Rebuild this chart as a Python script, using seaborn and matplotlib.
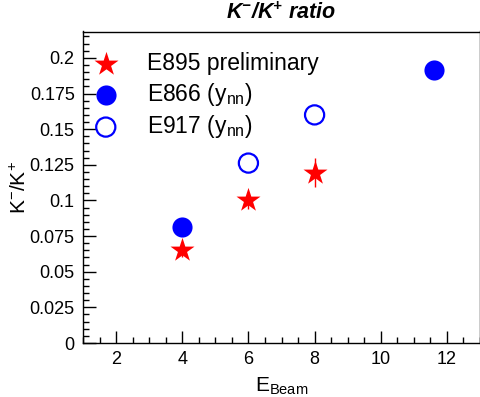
import matplotlib
matplotlib.use("Agg")
import matplotlib.pyplot as plt
from matplotlib.ticker import MultipleLocator
import seaborn as sns
import pandas as pd

# data
e895_x = [4, 6, 8]
e895_y = [0.0655, 0.1002, 0.1195]
e895_err = [0.005, 0.006, 0.0102]

e866_x = [4, 11.6]
e866_y = [0.0812, 0.1912]

e917_x = [6, 8]
e917_y = [0.1262, 0.1600]

sns.set_style("ticks")
plt.rcParams['font.family'] = ['Liberation Sans', 'DejaVu Sans']
plt.rcParams['mathtext.fontset'] = 'custom'
plt.rcParams['mathtext.rm'] = 'Liberation Sans'
plt.rcParams['mathtext.it'] = 'Liberation Sans:italic'
plt.rcParams['mathtext.bf'] = 'Liberation Sans:bold'
plt.rcParams['mathtext.bfit'] = 'Liberation Sans:bold:italic'
for key in ['text.color', 'axes.labelcolor', 'xtick.color', 'ytick.color', 'axes.edgecolor']:
    plt.rcParams[key] = 'black'

fig = plt.figure(figsize=(4.81, 3.97), dpi=100)
ax = fig.add_axes([83 / 481, 54 / 397, 397 / 481, 311.5 / 397])

df895 = pd.DataFrame({"x": e895_x, "y": e895_y})
df866 = pd.DataFrame({"x": e866_x, "y": e866_y})
df917 = pd.DataFrame({"x": e917_x, "y": e917_y})

ax.errorbar(e895_x, e895_y, yerr=e895_err, fmt="none", ecolor="red", elinewidth=1.0, capsize=0, zorder=2)
sns.scatterplot(data=df895, x="x", y="y", marker="*", s=330, color="red", edgecolor="red",
                linewidth=0, ax=ax, label="E895 preliminary", zorder=3)
sns.scatterplot(data=df866, x="x", y="y", marker="o", s=210, color="blue", edgecolor="blue",
                linewidth=0, ax=ax, label=r"E866 (y$_{\mathrm{nn}}$)", zorder=3)
sns.scatterplot(data=df917, x="x", y="y", marker="o", s=190, facecolor="none", edgecolor="blue",
                linewidth=1.6, ax=ax, label=r"E917 (y$_{\mathrm{nn}}$)", zorder=3)

ax.set_xlim(1, 13)
ax.set_ylim(0, 0.2185)
ax.xaxis.set_major_locator(MultipleLocator(2))
ax.xaxis.set_minor_locator(MultipleLocator(0.5))
ax.yaxis.set_minor_locator(MultipleLocator(0.005))
ax.set_yticks([0, 0.025, 0.05, 0.075, 0.1, 0.125, 0.15, 0.175, 0.2])
ax.set_yticklabels(["0", "0.025", "0.05", "0.075", "0.1", "0.125", "0.15", "0.175", "0.2"])
ax.tick_params(which="major", direction="in", length=9, width=1, labelsize=13, pad=6,
               top=False, right=False, colors="black")
ax.tick_params(which="minor", direction="in", length=4.5, width=1, top=False, right=False,
               colors="black")
for sp in ax.spines.values():
    sp.set_visible(True)
    sp.set_linewidth(1)
    sp.set_color("black")

ax.set_xlabel(r"E$_{\mathrm{Beam}}$", fontsize=15, labelpad=5)
ax.set_ylabel(r"K$^{-}$/K$^{+}$", fontsize=15, labelpad=0)
ax.set_title(r"$\mathbfit{K^{-}/K^{+}}$ $\mathbfit{ratio}$", fontsize=15.5, pad=9)

leg = ax.legend(loc="upper left", bbox_to_anchor=(-0.035, 0.978), frameon=False, fontsize=16.5,
                handletextpad=0.78, labelspacing=0.24, borderaxespad=0.2, markerscale=1.0)

fig.savefig("out.png", dpi=100)
